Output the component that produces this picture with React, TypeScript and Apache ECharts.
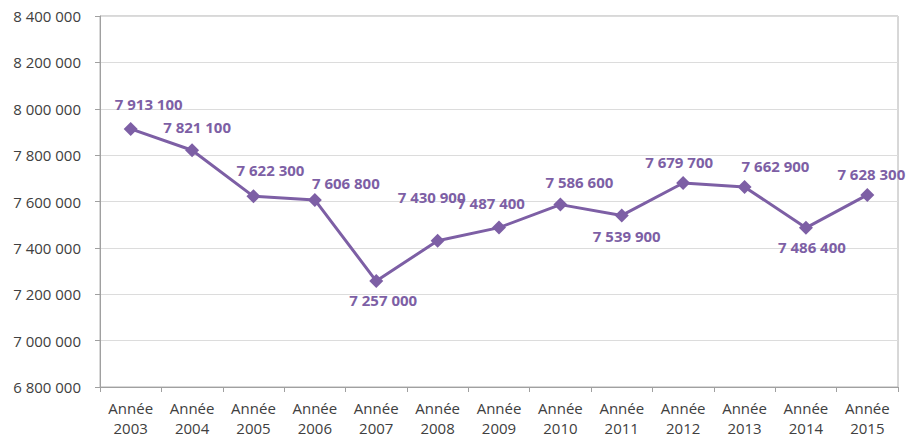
import React, { useEffect, useRef } from "react";
import * as echarts from "echarts";

const categories = [
  "Année\n2003", "Année\n2004", "Année\n2005", "Année\n2006", "Année\n2007",
  "Année\n2008", "Année\n2009", "Année\n2010", "Année\n2011", "Année\n2012",
  "Année\n2013", "Année\n2014", "Année\n2015",
];
const values = [
  7913100, 7821100, 7622300, 7606800, 7257000, 7430900, 7487400,
  7586600, 7539900, 7679700, 7662900, 7486400, 7628300,
];
const labelOffsets: [number, number][] = [
  [18, -25], [5, -23], [17, -26], [31, -17], [7, 19], [-6, -44], [-8, -25],
  [19, -23], [5, 21], [-4, -21], [31, -21], [6, 19], [4, -21],
];

const fmt = (v: number) => String(Math.round(v)).replace(/\B(?=(\d{3})+(?!\d))/g, " ");

const COLOR = "#7d5fa5";

export default function App() {
  const ref = useRef<HTMLDivElement>(null);
  useEffect(() => {
    if (!ref.current) return;
    const chart = echarts.init(ref.current, undefined, { renderer: "svg" });
    chart.setOption({
      animation: false,
      backgroundColor: "#ffffff",
      grid: {
        left: 100, right: 22, top: 16, bottom: 52,
        show: true, borderColor: "#b0b0b0", borderWidth: 1,
      },
      xAxis: {
        type: "category",
        data: categories,
        boundaryGap: true,
        axisLine: { lineStyle: { color: "#a0a0a0" } },
        axisTick: { show: true, alignWithLabel: false, length: 5, lineStyle: { color: "#a0a0a0" } },
        axisLabel: {
          color: "#404040", fontSize: 15, fontFamily: "Open Sans", lineHeight: 20,
          margin: 11, interval: 0,
        },
      },
      yAxis: {
        type: "value",
        min: 6800000, max: 8400000, interval: 200000,
        axisLine: { show: true, lineStyle: { color: "#a0a0a0" } },
        axisTick: { show: true, length: 5, lineStyle: { color: "#a0a0a0" } },
        splitLine: { lineStyle: { color: "#dcdcdc" } },
        axisLabel: {
          color: "#404040", fontSize: 15, fontFamily: "Open Sans", margin: 19,
          formatter: (v: number) => fmt(v),
        },
      },
      series: [
        {
          type: "line",
          data: values.map((v, i) => ({
            value: v,
            label: { offset: labelOffsets[i] },
          })),
          symbol: "diamond",
          symbolSize: 14,
          lineStyle: { color: COLOR, width: 3 },
          itemStyle: { color: COLOR },
          label: {
            show: true,
            position: "inside",
            color: COLOR,
            fontSize: 15,
            fontWeight: "bold",
            fontFamily: "Open Sans",
            formatter: (p: any) => fmt(p.value),
          },
        },
      ],
    });
    return () => chart.dispose();
  }, []);
  return (
    <div
      ref={ref}
      style={{ position: "fixed", left: 0, top: 0, width: 920, height: 439 }}
    />
  );
}
